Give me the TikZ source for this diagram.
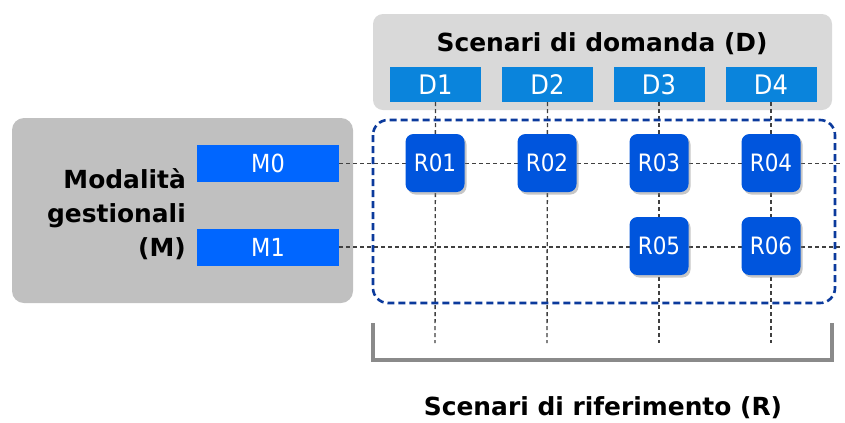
\documentclass[tikz,border=0pt]{standalone}
\usepackage{fontspec}
\setmainfont{DejaVu Sans}
\newfontfamily\condf{DejaVu Sans Condensed}
\usetikzlibrary{shadows}
\definecolor{dblue}{HTML}{0A84DC}
\definecolor{mblue}{HTML}{0066FF}
\definecolor{rblue}{HTML}{0055DD}
\definecolor{frameblue}{HTML}{0B3A9C}
\definecolor{topgray}{HTML}{D9D9D9}
\definecolor{leftgray}{HTML}{C0C0C0}
\definecolor{gridgray}{HTML}{404040}
\definecolor{brgray}{HTML}{8A8A8A}
\pgfdeclarelayer{bg}
\pgfdeclarelayer{lines}
\pgfsetlayers{bg,lines,main}
\tikzset{
  dbox/.style={fill=dblue, text=white, minimum width=91bp, minimum height=35bp, inner sep=0pt, font=\condf\fontsize{27}{27}\selectfont},
  mbox/.style={fill=mblue, text=white, minimum width=142bp, minimum height=37bp, inner sep=0pt, font=\condf\fontsize{25}{25}\selectfont},
  rbox/.style={fill=rblue, text=white, minimum width=59bp, minimum height=58bp, inner sep=0pt, rounded corners=8bp, drop shadow={shadow xshift=2bp, shadow yshift=-2.5bp, opacity=0.45}, font=\condf\fontsize{24}{24}\selectfont},
  grid/.style={draw=gridgray, line width=1.4bp, dash pattern=on 4bp off 3bp},
  title/.style={font=\bfseries\fontsize{25}{25}\selectfont, inner sep=0pt},
  bracket/.style={line width=4bp},
}
\begin{document}
\begin{tikzpicture}[x=1bp, y=-1bp]
\useasboundingbox (0,0) rectangle (845,422);
% backgrounds
\begin{pgfonlayer}{bg}
\fill[topgray, rounded corners=10bp] (373,14) rectangle (832,110);
\fill[leftgray, rounded corners=12bp] (12,118) rectangle (353,303);
\end{pgfonlayer}
\node[title] (tD) at (602,44) {Scenari di domanda (D)};
\node[font=\bfseries\fontsize{25}{34}\selectfont, align=right, anchor=east, inner sep=0pt] (tM) at (186,214) {Modalità\\gestionali\\(M)};
\node[title] (tR) at (603,408) {Scenari di riferimento (R)};
% D boxes
\node[dbox] (D1) at (435.5,84.5) {D1};
\node[dbox] (D2) at (547.5,84.5) {D2};
\node[dbox] (D3) at (659,84.5) {D3};
\node[dbox] (D4) at (771,84.5) {D4};
% M boxes
\node[mbox] (M0) at (268,163.5) {M0};
\node[mbox] (M1) at (268,247) {M1};
% R boxes
\node[rbox] (R01) at (435,163) {R01};
\node[rbox] (R02) at (547,163) {R02};
\node[rbox] (R03) at (659,163) {R03};
\node[rbox] (R04) at (771,163) {R04};
\node[rbox] (R05) at (659,246) {R05};
\node[rbox] (R06) at (771,246) {R06};
% end coordinates
\coordinate (e0) at (843,163.5);
\coordinate (e1) at (843,247);
\coordinate (b1) at (435,343);
\coordinate (b2) at (547,343);
\coordinate (b3) at (659,343);
\coordinate (b4) at (771,343);
\coordinate (brL) at (373,323);
\coordinate (brR) at (832,323);
\coordinate (brB) at (600,360);
\begin{pgfonlayer}{lines}
\draw[grid] (M0.east) -- (e0);
\draw[grid] (M1.east) -- (e1);
\draw[grid] (D1.south) -- (b1);
\draw[grid] (D2.south) -- (b2);
\draw[grid] (D3.south) -- (b3);
\draw[grid] (D4.south) -- (b4);
\draw[frameblue, line width=2.6bp, dash pattern=on 7bp off 4bp, rounded corners=15bp] (373,120) rectangle (835,303);
\draw[bracket, black, opacity=0.18, xshift=2bp, yshift=-3bp] (brL) |- (brB) -| (brR);
\draw[bracket, brgray] (brL) |- (brB) -| (brR);
\end{pgfonlayer}
\end{tikzpicture}
\end{document}
